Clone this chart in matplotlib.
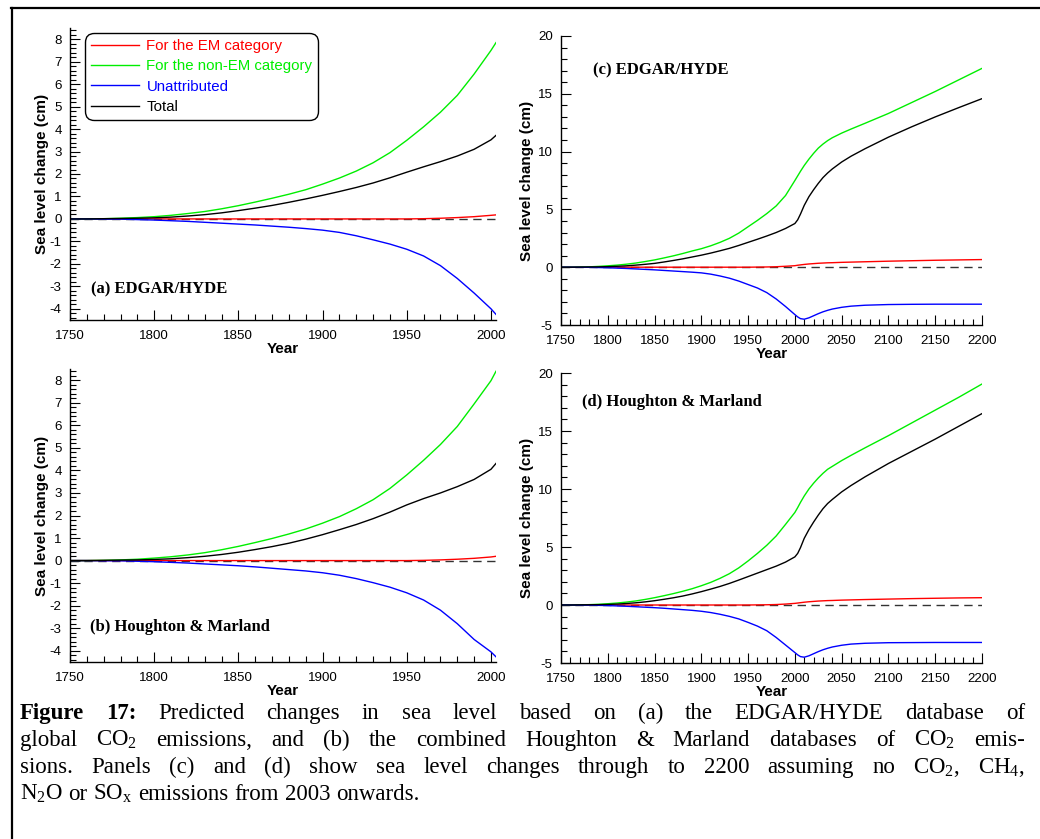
import matplotlib
matplotlib.use('Agg')
import matplotlib.pyplot as plt
from matplotlib.lines import Line2D
from matplotlib.ticker import MultipleLocator

plt.rcParams['font.family'] = 'Liberation Sans'
plt.rcParams['axes.unicode_minus'] = False
plt.rcParams['mathtext.fontset'] = 'custom'
plt.rcParams['mathtext.rm'] = 'Liberation Serif'
plt.rcParams['mathtext.it'] = 'Liberation Serif:italic'
plt.rcParams['mathtext.bf'] = 'Liberation Serif:bold'

# data (cm)
years_hist = [1750, 1760, 1770, 1780, 1790, 1800, 1810, 1820, 1830, 1840, 1850, 1860, 1870,
              1880, 1890, 1900, 1910, 1920, 1930, 1940, 1950, 1960, 1970, 1980, 1990, 2000, 2003]

a_em = [0, 0, 0, 0, 0, 0, 0, 0, 0, 0, 0, 0, 0,
        0, 0, 0, 0, 0, 0, 0, 0, 0.01, 0.03, 0.06, 0.1, 0.16, 0.18]
a_nonem = [0, 0, 0.01, 0.03, 0.06, 0.1, 0.16, 0.24, 0.33, 0.45, 0.59, 0.75, 0.92,
           1.1, 1.3, 1.55, 1.82, 2.13, 2.5, 2.95, 3.5, 4.1, 4.75, 5.5, 6.45, 7.5, 7.85]
a_unattr = [0, 0, -0.01, -0.01, -0.03, -0.05, -0.08, -0.11, -0.15, -0.19, -0.23, -0.27, -0.32,
            -0.37, -0.43, -0.5, -0.6, -0.75, -0.93, -1.12, -1.35, -1.65, -2.08, -2.65, -3.3, -4.0, -4.25]
a_total = [0, 0, 0.01, 0.02, 0.03, 0.05, 0.08, 0.13, 0.19, 0.27, 0.37, 0.48, 0.6,
           0.74, 0.89, 1.05, 1.22, 1.4, 1.6, 1.83, 2.08, 2.32, 2.55, 2.8, 3.1, 3.52, 3.72]

b_em = [0, 0, 0, 0, 0, 0, 0, 0, 0, 0, 0, 0, 0,
        0, 0, 0, 0, 0, 0, 0, 0, 0.01, 0.03, 0.06, 0.1, 0.16, 0.19]
b_nonem = [0, 0, 0.01, 0.03, 0.06, 0.11, 0.17, 0.25, 0.35, 0.48, 0.63, 0.8, 0.98,
           1.18, 1.4, 1.66, 1.95, 2.3, 2.7, 3.2, 3.8, 4.45, 5.15, 5.95, 6.95, 7.98, 8.4]
b_unattr = [0, 0, -0.01, -0.01, -0.03, -0.05, -0.08, -0.11, -0.15, -0.19, -0.23, -0.28, -0.34,
            -0.4, -0.46, -0.54, -0.65, -0.8, -0.98, -1.18, -1.43, -1.75, -2.2, -2.8, -3.5, -4.05, -4.27]
b_total = [0, 0, 0.01, 0.02, 0.03, 0.05, 0.08, 0.13, 0.19, 0.27, 0.37, 0.49, 0.62,
           0.77, 0.95, 1.15, 1.37, 1.6, 1.86, 2.15, 2.47, 2.75, 3.0, 3.28, 3.6, 4.05, 4.31]

years_long = [1750, 1760, 1770, 1780, 1790, 1800, 1810, 1820, 1830, 1840, 1850, 1860, 1870,
              1880, 1890, 1900, 1910, 1920, 1930, 1940, 1950, 1960, 1970, 1980, 1990, 2000,
              2003, 2006, 2010, 2015, 2020, 2025, 2030, 2035, 2040, 2050, 2060, 2075,
              2100, 2125, 2150, 2175, 2200]

c_em = [0, 0, 0, 0, 0, 0, 0, 0, 0, 0, 0, 0, 0,
        0, 0, 0, 0, 0, 0, 0, 0, 0.01, 0.02, 0.04, 0.08, 0.13,
        0.17, 0.2, 0.24, 0.28, 0.31, 0.34, 0.36, 0.38, 0.39, 0.42, 0.44, 0.47,
        0.52, 0.56, 0.6, 0.63, 0.66]
c_nonem = [0, 0, 0.01, 0.03, 0.07, 0.12, 0.18, 0.26, 0.36, 0.49, 0.63, 0.8, 0.98,
           1.18, 1.4, 1.6, 1.85, 2.15, 2.5, 2.95, 3.5, 4.05, 4.64, 5.3, 6.2, 7.5,
           7.9, 8.3, 8.8, 9.35, 9.85, 10.3, 10.65, 10.95, 11.2, 11.6, 11.95, 12.45,
           13.3, 14.25, 15.2, 16.2, 17.2]
c_unattr = [0, 0, -0.01, -0.01, -0.03, -0.05, -0.08, -0.11, -0.15, -0.19, -0.23, -0.28, -0.33,
            -0.38, -0.43, -0.49, -0.6, -0.76, -0.95, -1.2, -1.5, -1.8, -2.2, -2.75, -3.4, -4.1,
            -4.3, -4.45, -4.5, -4.38, -4.2, -4.02, -3.86, -3.73, -3.62, -3.47, -3.37, -3.29,
            -3.23, -3.21, -3.2, -3.2, -3.2]
c_total = [0, 0, 0.01, 0.02, 0.03, 0.05, 0.08, 0.12, 0.18, 0.25, 0.33, 0.45, 0.58,
           0.72, 0.88, 1.04, 1.22, 1.42, 1.63, 1.88, 2.15, 2.42, 2.7, 3.0, 3.35, 3.78,
           4.1, 4.6, 5.35, 6.1, 6.7, 7.25, 7.75, 8.15, 8.5, 9.1, 9.6, 10.25,
           11.25, 12.15, 13.0, 13.8, 14.58]

d_em = [0, 0, 0, 0, 0, 0, 0, 0, 0, 0, 0, 0, 0,
        0, 0, 0, 0, 0, 0, 0, 0, 0.01, 0.02, 0.04, 0.08, 0.14,
        0.17, 0.2, 0.24, 0.28, 0.31, 0.34, 0.36, 0.38, 0.39, 0.42, 0.44, 0.47,
        0.51, 0.55, 0.58, 0.61, 0.63]
d_nonem = [0, 0, 0.01, 0.03, 0.06, 0.11, 0.17, 0.25, 0.35, 0.48, 0.63, 0.8, 0.98,
           1.18, 1.4, 1.66, 1.95, 2.3, 2.7, 3.2, 3.8, 4.45, 5.15, 5.95, 6.95, 7.98,
           8.4, 8.85, 9.4, 10.0, 10.5, 10.95, 11.35, 11.7, 11.95, 12.45, 12.9, 13.55,
           14.6, 15.7, 16.8, 17.9, 19.05]
d_unattr = [0, 0, -0.01, -0.01, -0.03, -0.05, -0.08, -0.11, -0.15, -0.19, -0.23, -0.28, -0.34,
            -0.4, -0.46, -0.54, -0.65, -0.8, -0.98, -1.2, -1.5, -1.82, -2.22, -2.8, -3.45, -4.1,
            -4.3, -4.45, -4.5, -4.38, -4.2, -4.02, -3.86, -3.73, -3.62, -3.47, -3.37, -3.3,
            -3.25, -3.24, -3.23, -3.23, -3.23]
d_total = [0, 0, 0.01, 0.02, 0.03, 0.05, 0.08, 0.13, 0.19, 0.27, 0.37, 0.49, 0.62,
           0.77, 0.95, 1.15, 1.37, 1.6, 1.86, 2.15, 2.45, 2.75, 3.05, 3.35, 3.7, 4.15,
           4.45, 4.95, 5.75, 6.5, 7.15, 7.75, 8.3, 8.75, 9.1, 9.75, 10.3, 11.05,
           12.2, 13.25, 14.3, 15.4, 16.5]

labels = ['For the EM category', 'For the non-EM category', 'Unattributed', 'Total']
colors = ['#ff0000', '#00ee00', '#0000ff', '#000000']

W, H = 1040, 839
fig = plt.figure(figsize=(W / 100, H / 100), dpi=100)


def px_axes(left, top, right, bottom):
    return fig.add_axes([left / W, 1 - bottom / H, (right - left) / W, (bottom - top) / H])


def style(ax, xlim, ylim, ymaj, ymin, ylab_x):
    ax.set_xlim(*xlim)
    ax.set_ylim(*ylim)
    for s in ['top', 'right']:
        ax.spines[s].set_visible(False)
    for s in ['left', 'bottom']:
        ax.spines[s].set_linewidth(1.0)
    ax.xaxis.set_major_locator(MultipleLocator(50))
    ax.xaxis.set_minor_locator(MultipleLocator(10))
    ax.yaxis.set_major_locator(MultipleLocator(ymaj))
    ax.yaxis.set_minor_locator(MultipleLocator(ymin))
    ax.tick_params(which='major', direction='in', length=7, width=0.8, labelsize=9.6, pad=7)
    ax.tick_params(which='minor', direction='in', length=4, width=0.8)
    ax.tick_params(axis='y', which='major', pad=6)
    ax.set_xlabel('Year', fontsize=11, fontweight='bold', labelpad=0)
    ax.set_ylabel('Sea level change (cm)', fontsize=11, fontweight='bold')
    ax.yaxis.set_label_coords(ylab_x, 0.5)


def draw(ax, yrs, series):
    ax.axhline(0, color='#333333', lw=1.0, ls=(0, (6, 4)), zorder=1)
    for vals, col, lab in zip(series, colors, labels):
        ax.plot(yrs, vals, color=col, lw=1.0, label=lab, zorder=2)


ax_a = px_axes(70, 28, 496, 320)
ax_b = px_axes(70, 369, 496, 662)
ax_c = px_axes(561, 36, 982, 325)
ax_d = px_axes(561, 373, 982, 663)

draw(ax_a, years_hist, [a_em, a_nonem, a_unattr, a_total])
draw(ax_b, years_hist, [b_em, b_nonem, b_unattr, b_total])
draw(ax_c, years_long, [c_em, c_nonem, c_unattr, c_total])
draw(ax_d, years_long, [d_em, d_nonem, d_unattr, d_total])

for ax in (ax_a, ax_b):
    style(ax, (1750, 2003), (-4.5, 8.5), 1, 0.2, -21 / 426)
for ax in (ax_c, ax_d):
    style(ax, (1750, 2200), (-5, 20), 5, 1, -27 / 421)

leg = ax_a.legend(loc='upper left', bbox_to_anchor=(0.035, 0.983), borderaxespad=0,
                  fontsize=10.8, handlelength=3.2, handletextpad=0.5, labelspacing=0.42,
                  borderpad=0.4, fancybox=True, framealpha=1, edgecolor='black',
                  labelcolor='linecolor')
leg.get_frame().set_linewidth(1.0)
leg.get_frame().set_boxstyle('round', pad=0, rounding_size=0.6)

tkw = dict(family='Liberation Serif', fontweight='bold', fontsize=12, va='center')
ax_a.text(0.05, 0.105, '(a) EDGAR/HYDE', transform=ax_a.transAxes, **tkw)
ax_b.text(0.047, 0.12, '(b) Houghton & Marland', transform=ax_b.transAxes, **tkw)
ax_c.text(0.075, 0.88, '(c) EDGAR/HYDE', transform=ax_c.transAxes, **tkw)
ax_d.text(0.05, 0.9, '(d) Houghton & Marland', transform=ax_d.transAxes, **tkw)

# frame around the figure
fig.add_artist(Line2D([11 / W, 1], [1 - 7.5 / H, 1 - 7.5 / H], color='black', lw=1.6))
fig.add_artist(Line2D([12 / W, 12 / W], [0, 1 - 7.5 / H], color='black', lw=1.6))

# caption, justified word by word
renderer = fig.canvas.get_renderer()
cap_size = 16.5


def width_of(s, bold=False):
    t = fig.text(0, 0, s, fontsize=cap_size, family='Liberation Serif',
                 fontweight='bold' if bold else 'normal')
    w = t.get_window_extent(renderer).width
    t.remove()
    return w


def caption_line(words, y, x0=20, x1=1025, justify=True):
    widths = [width_of(w, b) for w, b in words]
    if justify and len(words) > 1:
        gap = (x1 - x0 - sum(widths)) / (len(words) - 1)
    else:
        gap = width_of('a a') - width_of('aa')
    x = x0
    for (w, b), wd in zip(words, widths):
        fig.text(x / W, 1 - y / H, w, fontsize=cap_size, family='Liberation Serif',
                 fontweight='bold' if b else 'normal', va='baseline')
        x += wd + gap


def plain(s):
    return [(w, False) for w in s.split()]


caption_line([('Figure', True), ('17:', True)] +
             plain('Predicted changes in sea level based on (a) the EDGAR/HYDE database of'), 719)
caption_line(plain('global CO$_2$ emissions, and (b) the combined Houghton & Marland databases of CO$_2$ emis-'), 746)
caption_line(plain('sions.  Panels (c) and (d) show sea level changes through to 2200 assuming no CO$_2$, CH$_4$,'), 773)
caption_line(plain(r'N$_2$O or SO$_\mathrm{x}$ emissions from 2003 onwards.'), 800, justify=False)

fig.savefig('out.png', dpi=100)
